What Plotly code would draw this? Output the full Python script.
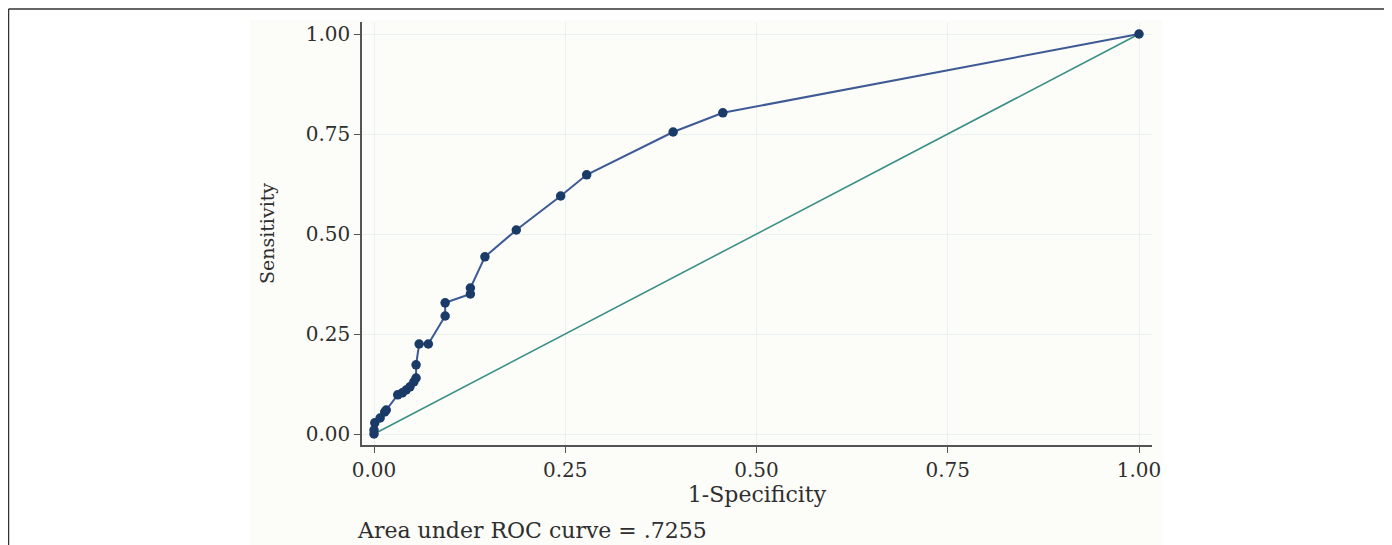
import plotly.graph_objects as go

# ROC curve points
fpr = [0.000, 0.000, 0.001, 0.008, 0.014, 0.016, 0.031, 0.037, 0.042, 0.047,
       0.052, 0.055, 0.055, 0.059, 0.071, 0.093, 0.093, 0.126, 0.126, 0.145,
       0.186, 0.244, 0.278, 0.391, 0.456, 1.000]
tpr = [0.000, 0.010, 0.028, 0.040, 0.055, 0.060, 0.098, 0.103, 0.110, 0.118,
       0.130, 0.140, 0.173, 0.225, 0.225, 0.295, 0.328, 0.350, 0.365, 0.443,
       0.510, 0.595, 0.648, 0.755, 0.803, 1.000]
ref_x = [0, 1]
ref_y = [0, 1]
tick_vals = [0, 0.25, 0.5, 0.75, 1.0]
tick_text = ["0.00", "0.25", "0.50", "0.75", "1.00"]
auc_text = "Area under ROC curve = .7255"

FONT = "DejaVu Serif"
TXT = "#2e2e2e"

# page body margin offset (browser default 8px)
O = 8
W, H = 1392 - O, 545 - O
L, R, T, B = 362 - O, 1152 - O, 22 - O, 445 - O

def px(p):
    p = p - O
    return (p - L) / (R - L)

def py(p):
    p = p - O
    return (B - p) / (B - T)

fig = go.Figure()
fig.add_trace(go.Scatter(x=ref_x, y=ref_y, mode="lines",
                         line=dict(color="#3b8f86", width=1.6),
                         showlegend=False, hoverinfo="skip"))
fig.add_trace(go.Scatter(x=fpr, y=tpr, mode="lines+markers",
                         line=dict(color="#3d5a94", width=2),
                         marker=dict(color="#1a3a68", size=9.5),
                         showlegend=False))

shapes = [
    # chart image background
    dict(type="rect", xref="paper", yref="paper", x0=px(250), x1=px(1162),
         y0=py(560), y1=py(20), fillcolor="#fcfcf8", line=dict(width=0), layer="below"),
    # page frame: left and top lines
    dict(type="line", xref="paper", yref="paper", x0=px(8.5), x1=px(8.5),
         y0=py(560), y1=py(9), line=dict(color="#333333", width=1.5)),
    dict(type="line", xref="paper", yref="paper", x0=px(8.5), x1=px(1400),
         y0=py(9), y1=py(9), line=dict(color="#333333", width=1.5)),
]

fig.update_layout(
    width=W, height=H,
    margin=dict(l=L, r=W - R, t=T, b=H - B, pad=0),
    paper_bgcolor="white",
    plot_bgcolor="#fcfcf8",
    font=dict(family=FONT, size=20, color=TXT),
    shapes=shapes,
    annotations=[dict(text=auc_text, xref="paper", yref="paper",
                      x=px(355), y=py(530), xanchor="left", yanchor="middle",
                      showarrow=False, font=dict(family=FONT, size=22, color=TXT))],
)
fig.update_xaxes(range=[(362 - 374) / 765, (1152 - 374) / 765],
                 tickvals=tick_vals, ticktext=tick_text,
                 ticks="outside", ticklen=6, tickcolor="#555555",
                 showline=True, linecolor="#555555", linewidth=1.5,
                 showgrid=True, gridcolor="#ebf0f0", gridwidth=1,
                 zeroline=False,
                 title=dict(text="1-Specificity", standoff=6,
                            font=dict(family=FONT, size=22)),
                 tickfont=dict(family=FONT, size=20))
fig.update_yaxes(range=[(434 - 445) / 400, (434 - 22) / 400],
                 tickvals=tick_vals, ticktext=tick_text,
                 ticks="outside", ticklen=6, tickcolor="#555555",
                 showline=True, linecolor="#555555", linewidth=1.5,
                 showgrid=True, gridcolor="#ebf0f0", gridwidth=1,
                 zeroline=False,
                 title=dict(text="Sensitivity", standoff=26,
                            font=dict(family=FONT, size=19)),
                 tickfont=dict(family=FONT, size=20))

fig.write_html("out.html")
